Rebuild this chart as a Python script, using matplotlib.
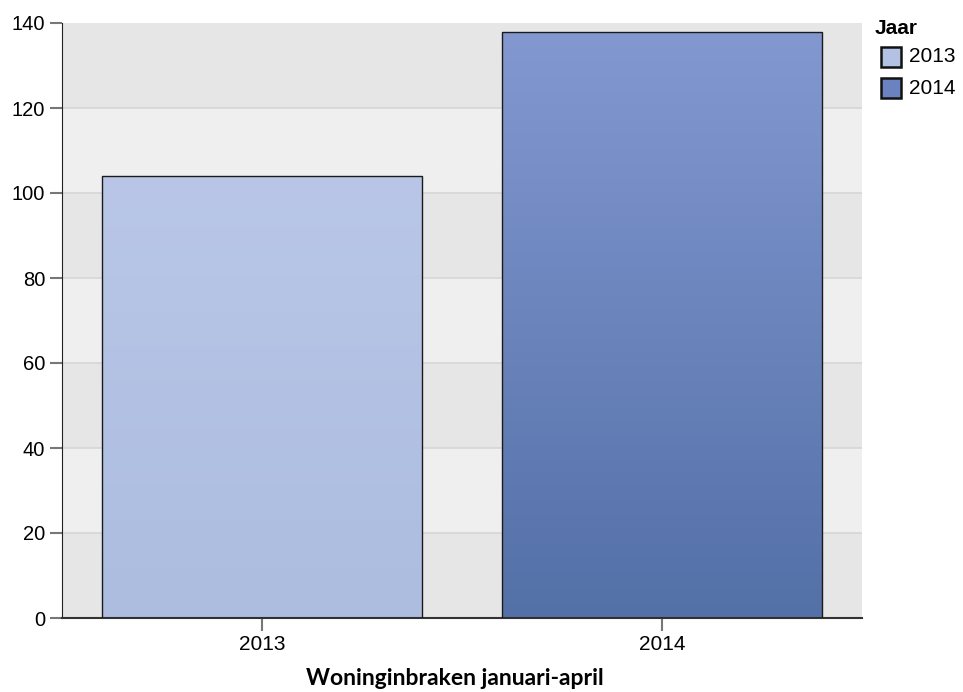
import numpy as np
import matplotlib
matplotlib.use("Agg")
from matplotlib import pyplot as plt
from matplotlib.patches import Rectangle
from matplotlib.colors import LinearSegmentedColormap

years = ["2013", "2014"]
counts = [104, 138]
# top / bottom colour of the gradient per bar
top_colors = ["#b9c6e7", "#8398d1"]
bottom_colors = ["#acbde0", "#5370a7"]
legend_colors = ["#b3c2e4", "#6a82c0"]
y_ticks = [0, 20, 40, 60, 80, 100, 120, 140]
x_title = "Woninginbraken januari-april"
legend_title = "Jaar"

plt.rcParams["font.family"] = ["Liberation Sans", "DejaVu Sans"]

fig = plt.figure(figsize=(9.63, 6.92), dpi=100)
ax = fig.add_axes([62 / 963, 1 - 618 / 692, 800 / 963, 595 / 692])

# alternating background bands
for i in range(len(y_ticks) - 1):
    c = "#e6e6e6" if i % 2 == 0 else "#efefef"
    ax.axhspan(y_ticks[i], y_ticks[i + 1], color=c, zorder=0, lw=0)
for t in y_ticks[1:-1]:
    ax.axhline(t, color="#d6d6d6", lw=1.2, zorder=0.5)

grad = np.linspace(0, 1, 256).reshape(-1, 1)
for i, (yr, v) in enumerate(zip(years, counts)):
    x0, x1 = i - 0.4, i + 0.4
    cmap = LinearSegmentedColormap.from_list("g" + yr, [bottom_colors[i], top_colors[i]])
    rect = Rectangle((x0, 0), 0.8, v, facecolor="none", edgecolor="#1a1a1a", lw=1.0, zorder=3)
    ax.add_patch(rect)
    im = ax.imshow(grad, cmap=cmap, extent=(x0, x1, 0, v), origin="lower",
                   aspect="auto", zorder=2)
    im.set_clip_path(rect)

ax.set_xlim(-0.5, 1.5)
ax.set_ylim(0, 140)
ax.set_xticks(range(len(years)))
ax.set_xticklabels(years)
ax.set_yticks(y_ticks)
ax.tick_params(axis="y", labelsize=14.5, color="#777777", length=9, width=1.5, pad=3)
ax.tick_params(axis="x", labelsize=15, color="#777777", length=9, width=1.5, pad=3)

for s in ["top", "right"]:
    ax.spines[s].set_visible(False)
ax.spines["left"].set_color("#222222")
ax.spines["bottom"].set_color("#333333")
ax.spines["bottom"].set_linewidth(1.5)

ax.set_xlabel(x_title, family=["Lato", "DejaVu Sans"], fontweight="bold", fontsize=16.5)
ax.xaxis.set_label_coords((455 - 62) / 800, -0.101)
ax.xaxis.label.set_va("center")

# legend drawn by hand
fig.text(875 / 963, 1 - 29 / 692, legend_title, fontsize=15, fontweight="bold", va="center")
for i, yr in enumerate(years):
    yc = 57 + i * 31
    fig.patches.append(Rectangle((881 / 963, 1 - (yc + 10) / 692), 20 / 963, 20 / 692,
                                 transform=fig.transFigure, facecolor=legend_colors[i],
                                 edgecolor="#111111", lw=1.8))
    fig.text(909 / 963, 1 - yc / 692, yr, fontsize=15, va="center")

fig.savefig("out.png", dpi=100)
